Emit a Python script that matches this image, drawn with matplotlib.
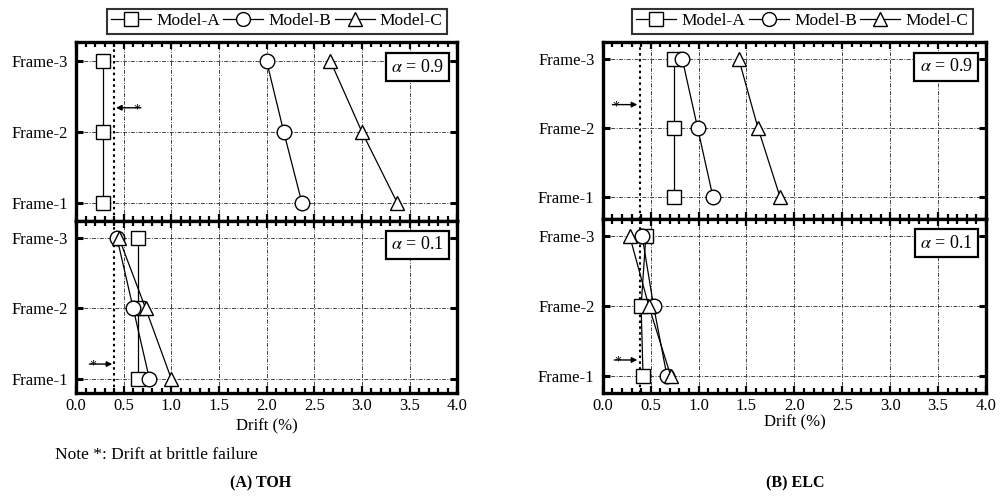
import numpy as np
import matplotlib
matplotlib.use("Agg")
from matplotlib import pyplot as plt
from matplotlib.lines import Line2D
from matplotlib.ticker import MultipleLocator

plt.rcParams['font.family'] = ['Liberation Serif', 'DejaVu Serif']
plt.rcParams['mathtext.fontset'] = 'stix'

frames = [1, 2, 3]
frameLabels = ["Frame-1", "Frame-2", "Frame-3"]
models = ["Model-A", "Model-B", "Model-C"]
markers = ["s", "o", "^"]

# drift (%) per frame, listed Frame-1, Frame-2, Frame-3
tohHigh = {"Model-A": [0.28, 0.28, 0.28],
           "Model-B": [2.37, 2.18, 2.00],
           "Model-C": [3.37, 3.00, 2.67]}
tohLow = {"Model-A": [0.65, 0.65, 0.65],
          "Model-B": [0.77, 0.60, 0.43],
          "Model-C": [1.00, 0.73, 0.45]}
elcHigh = {"Model-A": [0.74, 0.74, 0.74],
           "Model-B": [1.15, 0.99, 0.83],
           "Model-C": [1.85, 1.62, 1.42]}
elcLow = {"Model-A": [0.42, 0.40, 0.45],
          "Model-B": [0.67, 0.53, 0.41],
          "Model-C": [0.71, 0.48, 0.28]}
brittleToh = 0.40
brittleElc = 0.39


def drawPanel(ax, data, alphaText, brittle, star, ylim, bottom):
    for name, mk in zip(models, markers):
        ax.plot(data[name], frames, color="black", lw=0.9, marker=mk,
                markersize=9.5 if mk != "o" else 10.5, markerfacecolor="white",
                markeredgecolor="black", markeredgewidth=1.0, zorder=3)
    ax.axvline(brittle, color="black", ls=(0, (1.2, 1.6)), lw=1.5, zorder=2)
    # arrow pointing at brittle failure line
    sx, hx, sy = star
    ax.annotate("", xy=(hx, sy), xytext=(sx + (0.04 if sx > hx else -0.04), sy),
                arrowprops=dict(arrowstyle="-|>", color="black", lw=1.0,
                                mutation_scale=8, shrinkA=0, shrinkB=0))
    ax.text(sx, sy - 0.03, "*", ha="center", va="center", fontsize=10)
    ax.text(0.965, 0.86, r"$\alpha$" + " = " + alphaText, transform=ax.transAxes,
            ha="right", va="center", fontsize=13,
            bbox=dict(boxstyle="square,pad=0.3", fc="white", ec="black", lw=1.6))
    ax.set_xlim(0, 4)
    ax.set_ylim(*ylim)
    ax.set_yticks(frames)
    ax.set_yticklabels(frameLabels, fontsize=12)
    ax.xaxis.set_major_locator(MultipleLocator(0.5))
    ax.xaxis.set_minor_locator(MultipleLocator(0.1))
    ax.grid(True, which="major", color="#444444", ls=(0, (4, 1.5, 1, 1.5)), lw=0.7)
    ax.tick_params(axis="x", which="both", direction="in", top=True, bottom=True,
                   width=1.6, labelsize=12)
    ax.tick_params(axis="x", which="major", length=5)
    ax.tick_params(axis="x", which="minor", length=3.5)
    ax.tick_params(axis="y", direction="in", left=True, right=True, length=5,
                   width=2.2, pad=6)
    for sp in ax.spines.values():
        sp.set_linewidth(2.4)
    if not bottom:
        ax.set_xticklabels([])


fig = plt.figure(figsize=(10.03, 4.96), dpi=100)

axA1 = fig.add_axes([0.0758, 0.5544, 0.380, 0.361])
axA2 = fig.add_axes([0.0758, 0.2077, 0.380, 0.347])
axB1 = fig.add_axes([0.601, 0.5585, 0.382, 0.357])
axB2 = fig.add_axes([0.601, 0.2077, 0.382, 0.351])

drawPanel(axA1, tohHigh, "0.9", brittleToh, (0.64, 0.42, 2.34), (0.74, 3.27), False)
drawPanel(axA2, tohLow, "0.1", brittleToh, (0.18, 0.38, 1.21), (0.8, 3.24), True)
drawPanel(axB1, elcHigh, "0.9", brittleElc, (0.14, 0.36, 2.34), (0.68, 3.25), False)
drawPanel(axB2, elcLow, "0.1", brittleElc, (0.16, 0.36, 1.23), (0.76, 3.24), True)

axA2.set_xlabel("Drift (%)", fontsize=12, labelpad=3)
axB2.set_xlabel("Drift (%)", fontsize=12, labelpad=0.5)

handles = [Line2D([], [], color="black", lw=0.9, marker=mk, markersize=10,
                  markerfacecolor="white", markeredgecolor="black")
           for mk in markers]
for cx in (0.276, 0.80):
    leg = fig.legend(handles, models, loc="center", bbox_to_anchor=(cx, 0.957),
                     ncol=3, fontsize=12.5, frameon=True, fancybox=False,
                     edgecolor="black", handlelength=2.3, handletextpad=0.3,
                     columnspacing=0.2, borderpad=0.25, borderaxespad=0)
    leg.get_frame().set_linewidth(1.5)

fig.text(0.055, 0.083, "Note *: Drift at brittle failure", fontsize=12.5, va="center")
fig.text(0.26, 0.026, "(A) TOH", fontsize=11.5, fontweight="bold", ha="center", va="center")
fig.text(0.793, 0.026, "(B) ELC", fontsize=11.5, fontweight="bold", ha="center", va="center")

fig.savefig("out.png", dpi=100)
